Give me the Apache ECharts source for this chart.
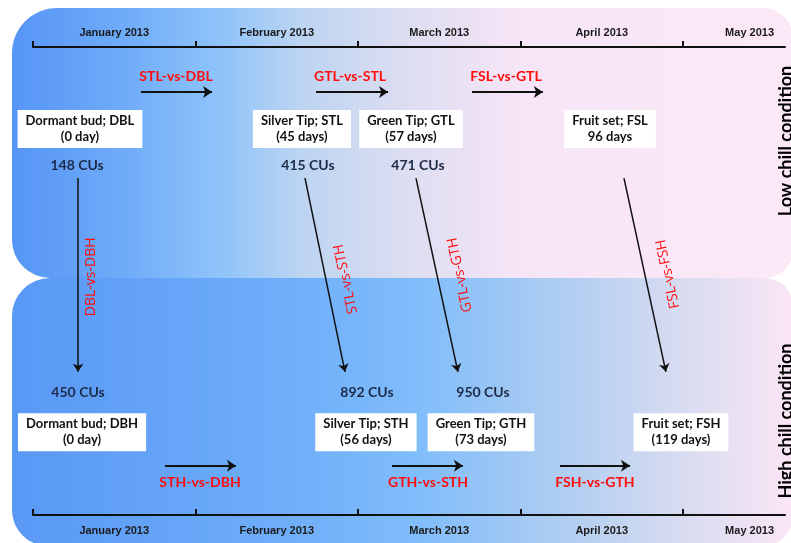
<!DOCTYPE html>
<html>
<head>
<meta charset="utf-8">
<script src="https://cdn.jsdelivr.net/npm/echarts@6/dist/echarts.min.js"></script>
<style>html,body{margin:0;padding:0;background:#fff}#c{width:791px;height:543px}</style>
</head>
<body>
<div id="c"></div>
<script>
// ---- data ----
const months = ['January 2013', 'February 2013', 'March 2013', 'April 2013', 'May 2013'];
const stagesLow = ['Dormant bud; DBL', 'Silver Tip; STL', 'Green Tip; GTL', 'Fruit set; FSL'];
const daysLow = [0, 45, 57, 96];
const cusLow = [148, 415, 471];
const stagesHigh = ['Dormant bud; DBH', 'Silver Tip; STH', 'Green Tip; GTH', 'Fruit set; FSH'];
const daysHigh = [0, 56, 73, 119];
const cusHigh = [450, 892, 950];
const compLow = ['STL-vs-DBL', 'GTL-vs-STL', 'FSL-vs-GTL'];
const compHigh = ['STH-vs-DBH', 'GTH-vs-STH', 'FSH-vs-GTH'];
const compCross = ['DBL-vs-DBH', 'STL-vs-STH', 'GTL-vs-GTH', 'FSL-vs-FSH'];
const conditions = ['Low chill condition', 'High chill condition'];

// ---- layout (diagram positions in month units / row units) ----
const L = {
  xMax: 4.628,
  monthTicks: [0, 1, 2, 3, 4],
  monthLabelX: [0.5, 1.5, 2.5, 3.5, 4.41],
  lowBoxX: [0.289, 1.655, 2.326, 3.551], lowBoxY: 17.5,
  lowCuX: [0.271, 1.692, 2.369], lowCuY: 25.3,
  highCuX: [0.277, 2.055, 2.769], highCuY: 73.8,
  highBoxX: [0.302, 2.049, 2.757, 3.988], highBoxY: 82.3,
  lowCompX: [0.88, 1.951, 2.911], lowCompY: 6.4,
  lowArrow: [[0.665, 1.102], [1.742, 2.185], [2.702, 3.138]], lowArrowY: 9.6,
  highCompX: [1.028, 2.431, 3.458], highCompY: 93.0,
  highArrow: [[0.812, 1.249], [2.209, 2.646], [3.243, 3.674]], highArrowY: 89.5,
  cross: [[0.277, 0.277], [1.674, 1.920], [2.357, 2.615], [3.637, 3.895]], crossY: [28.0, 69.4],
  crossLabel: [[0.36, 49.1, 90], [1.926, 49.6, 102], [2.628, 48.7, 102], [3.908, 48.5, 102]]
};
const lowParen = [true, true, true, false];

function dayText(d, paren) {
  const t = d + (d === 0 ? ' day' : ' days');
  return paren ? '(' + t + ')' : t;
}

const boxLabel = {
  show: true, position: 'inside', backgroundColor: '#ffffff', padding: [3, 8, 3, 8],
  lineHeight: 16, fontSize: 13, fontWeight: 'bold', fontFamily: 'Lato', color: '#111111', align: 'center'
};
const cuLabel = { show: true, position: 'inside', fontSize: 14, fontWeight: 'bold', fontFamily: 'Lato', color: '#1c2a48' };
const redLabel = { show: true, position: 'inside', fontSize: 14, fontWeight: 'bold', fontFamily: 'Lato', color: '#ff0d0d' };

function textSeries(name, data, label) {
  return {
    type: 'scatter', name, xAxisIndex: 0, yAxisIndex: 0, symbolSize: 1,
    itemStyle: { color: 'rgba(0,0,0,0)', opacity: 1 }, silent: true, clip: false,
    label: Object.assign({ formatter: p => p.name }, label), data, z: 5
  };
}

const boxData = stagesLow.map((s, i) => ({ name: s + '\n' + dayText(daysLow[i], lowParen[i]), value: [L.lowBoxX[i], L.lowBoxY] }))
  .concat(stagesHigh.map((s, i) => ({ name: s + '\n' + dayText(daysHigh[i], true), value: [L.highBoxX[i], L.highBoxY] })));
const cuData = cusLow.map((c, i) => ({ name: c + ' CUs', value: [L.lowCuX[i], L.lowCuY] }))
  .concat(cusHigh.map((c, i) => ({ name: c + ' CUs', value: [L.highCuX[i], L.highCuY] })));
const compData = compLow.map((c, i) => ({ name: c, value: [L.lowCompX[i], L.lowCompY] }))
  .concat(compHigh.map((c, i) => ({ name: c, value: [L.highCompX[i], L.highCompY] })));
const crossData = compCross.map((c, i) => ({
  name: c, value: [L.crossLabel[i][0], L.crossLabel[i][1]],
  label: { rotate: L.crossLabel[i][2] }
}));

const hArrows = L.lowArrow.map(a => ({ coords: [[a[0], L.lowArrowY], [a[1], L.lowArrowY]] }))
  .concat(L.highArrow.map(a => ({ coords: [[a[0], L.highArrowY], [a[1], L.highArrowY]] })));
const vArrows = L.cross.map(a => ({ coords: [[a[0], L.crossY[0]], [a[1], L.crossY[1]]] }));

const chart = echarts.init(document.getElementById('c'), null, { renderer: 'canvas' });

const G = echarts.graphic;
const topFill = new G.LinearGradient(0, 0, 1, 0, [
  { offset: 0, color: '#5695f5' }, { offset: 0.14, color: '#6eabf8' }, { offset: 0.27, color: '#90c4fa' },
  { offset: 0.37, color: '#bcd4f1' }, { offset: 0.5, color: '#dcddf1' }, { offset: 0.65, color: '#f6e5f6' },
  { offset: 1, color: '#fce9f7' }
]);
const botFill = new G.LinearGradient(0, 0, 1, 0, [
  { offset: 0, color: '#5998f5' }, { offset: 0.35, color: '#6eaef9' }, { offset: 0.52, color: '#80bdfb' },
  { offset: 0.68, color: '#a9cbf2' }, { offset: 0.85, color: '#d6dbf0' }, { offset: 1, color: '#fbe6f6' }
]);

const axisCommon = {
  type: 'value', min: 0, max: L.xMax, gridIndex: 0,
  axisLine: { show: true, lineStyle: { color: '#111', width: 2 } },
  splitLine: { show: false },
  axisLabel: {
    customValues: L.monthLabelX, formatter: v => months[Math.floor(v)],
    fontFamily: 'Liberation Sans', fontWeight: 'bold', fontSize: 11, color: '#1a1a1a'
  }
};

chart.setOption({
  animation: false,
  graphic: [
    { type: 'rect', z: -10, shape: { x: 12, y: 8, width: 781, height: 270, r: [45, 30, 28, 38] }, style: { fill: topFill } },
    { type: 'rect', z: -10, shape: { x: 12, y: 278, width: 781, height: 268, r: [38, 28, 30, 36] }, style: { fill: botFill } },
    { type: 'text', z: 10, x: 786, y: 141, rotation: Math.PI / 2,
      style: { text: conditions[0], x: 0, y: 0, align: 'center', verticalAlign: 'middle', fontSize: 18, fontWeight: 'bold', fontFamily: 'Lato', fill: '#000' } },
    { type: 'text', z: 10, x: 786, y: 421, rotation: Math.PI / 2,
      style: { text: conditions[1], x: 0, y: 0, align: 'center', verticalAlign: 'middle', fontSize: 18, fontWeight: 'bold', fontFamily: 'Lato', fill: '#000' } }
  ],
  grid: { left: 33, right: 6, top: 47, bottom: 28, containLabel: false },
  xAxis: [
    Object.assign({}, axisCommon, {
      position: 'top',
      axisTick: { show: true, customValues: L.monthTicks, length: 6, inside: false, lineStyle: { color: '#111', width: 2 } },
      axisLabel: Object.assign({}, axisCommon.axisLabel, { margin: 9 })
    }),
    Object.assign({}, axisCommon, {
      position: 'bottom',
      axisTick: { show: true, customValues: L.monthTicks, length: 6, inside: true, lineStyle: { color: '#111', width: 2 } },
      axisLabel: Object.assign({}, axisCommon.axisLabel, { margin: 10 })
    })
  ],
  yAxis: { type: 'value', min: 0, max: 100, inverse: true, show: false },
  series: [
    {
      type: 'lines', coordinateSystem: 'cartesian2d', xAxisIndex: 0, yAxisIndex: 0, silent: true,
      symbol: ['none', 'arrow'], symbolSize: 9, lineStyle: { color: '#111', width: 2, opacity: 1 }, data: hArrows, z: 4
    },
    {
      type: 'lines', coordinateSystem: 'cartesian2d', xAxisIndex: 0, yAxisIndex: 0, silent: true,
      symbol: ['none', 'arrow'], symbolSize: 8, lineStyle: { color: '#111', width: 1.5, opacity: 1 }, data: vArrows, z: 4
    },
    textSeries('boxes', boxData, boxLabel),
    textSeries('cus', cuData, cuLabel),
    textSeries('comp', compData, redLabel),
    textSeries('cross', crossData, { show: true, position: 'inside', fontSize: 14, fontWeight: 500, fontFamily: 'Open Sans', color: '#ff0d0d' })
  ]
});
</script>
</body>
</html>
